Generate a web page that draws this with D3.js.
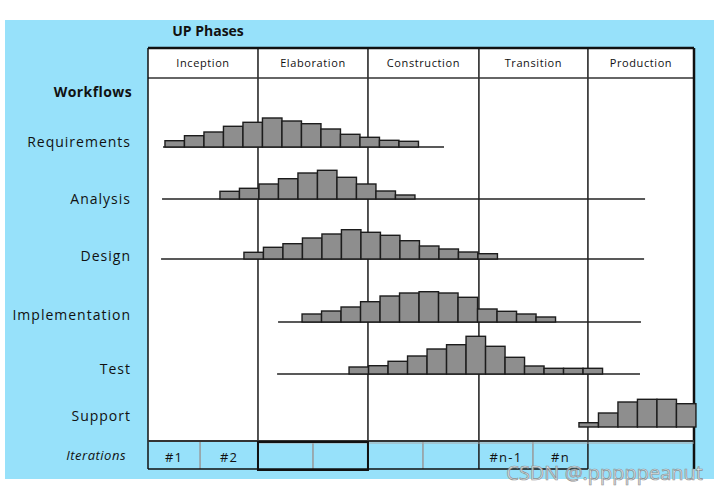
<!DOCTYPE html>
<head>
	<meta charset="utf-8">
	<title>UP Phases</title>
</head>
<style>
body { margin: 0; background: #fff; }
text { font-family: "Open Sans", "DejaVu Sans", sans-serif; fill: #111; }
.bar { fill: #8e8e8e; stroke: #1c1c1c; stroke-width: 1.4px; }
.base { stroke: #222; stroke-width: 1.5px; }
</style>
<svg id="svg" width="718" height="493"></svg>
<script src="https://cdn.jsdelivr.net/npm/d3@7/dist/d3.min.js"></script>
<script>

// phases (column headers) and where they end, in iteration "slots"
var phases = ["Inception", "Elaboration", "Construction", "Transition", "Production"];
var phaseEdges = [0, 5.64, 11.28, 16.97, 22.56, 28];
var iterCells = [0, 2.67, 5.64, 8.46, 11.28, 14.1, 16.97, 19.74, 22.56];
var iterLabels = ["#1", "#2", "", "", "", "", "#n-1", "#n"];

// workflows
var workflows = ["Requirements", "Analysis", "Design", "Implementation", "Test", "Support"];
var starts   = [0.87, 3.69, 4.92, 7.9, 10.31, 22.1];
var lineFrom = [0.77, 0.72, 0.67, 6.67, 6.62, 22.1];
var lineTo   = [15.18, 25.49, 25.44, 25.28, 25.23, 28];

var requirements   = [6.3, 11.3, 15, 20.7, 24.7, 29, 26, 23.3, 18, 12.7, 9.7, 6.7, 5.7];
var analysis       = [7.7, 10.7, 15, 20.3, 26, 28.7, 21.7, 15, 8, 4];
var design         = [6.7, 11.7, 15.3, 21, 25, 29.3, 26.7, 23.7, 18.3, 13, 10, 7, 5.3];
var implementation = [8, 11, 15, 20.3, 26, 29, 30.3, 29, 24.7, 13, 10.7, 8, 5];
var test           = [7, 8.3, 12.7, 18, 25, 29.3, 37.7, 27.7, 16.7, 8, 5.7, 5.7, 5.7];
var support        = [4.3, 14, 25, 27.7, 27.7, 23.3];
var effort = [requirements, analysis, design, implementation, test, support];

var svg = d3.select("svg");

// layout
var gLeft = 148, gRight = 694, gTop = 48, headBottom = 78, gridBottom = 442, iterBottom = 469;
var rowBase = [147, 199, 259, 322, 374, 427];
var labelShift = [0, 5, 2, -2, 0, -6];
var blue = "#97e1fa";

var x = d3.scaleLinear().domain([0, 28]).range([gLeft, gRight]);
var h = d3.scaleLinear().domain([0, 40]).range([0, 40]);

svg.append("rect").attr("x", 5).attr("y", 20).attr("width", 709).attr("height", 459).attr("fill", blue);
svg.append("rect").attr("x", gLeft).attr("y", gTop).attr("width", gRight - gLeft).attr("height", gridBottom - gTop).attr("fill", "#fff");

// iteration row splits
svg.append("g").selectAll("line")
    .data([1, 3, 5, 7])
    .enter().append("line")
      .attr("x1", function(d) { return x(iterCells[d]); })
      .attr("x2", function(d) { return x(iterCells[d]); })
      .attr("y1", gridBottom).attr("y2", iterBottom)
      .attr("stroke", "#999").attr("stroke-width", 1.5);

// phase column lines
svg.append("g").selectAll("line")
    .data(phaseEdges.slice(1, 5))
    .enter().append("line")
      .attr("x1", function(d) { return x(d); })
      .attr("x2", function(d) { return x(d); })
      .attr("y1", gTop).attr("y2", iterBottom)
      .attr("stroke", "#1a1a1a").attr("stroke-width", 1.5);

// outer table lines
svg.append("line").attr("x1", gLeft).attr("x2", gRight).attr("y1", headBottom).attr("y2", headBottom)
    .attr("stroke", "#333").attr("stroke-width", 1.5);
svg.append("line").attr("x1", gLeft).attr("x2", gRight).attr("y1", gTop).attr("y2", gTop)
    .attr("stroke", "#111").attr("stroke-width", 2.5);
svg.append("line").attr("x1", gLeft).attr("x2", gLeft).attr("y1", gTop).attr("y2", iterBottom)
    .attr("stroke", "#111").attr("stroke-width", 1.5);
svg.append("line").attr("x1", gRight).attr("x2", gRight).attr("y1", gTop).attr("y2", iterBottom)
    .attr("stroke", "#111").attr("stroke-width", 2.5);
svg.append("line").attr("x1", gLeft).attr("x2", x(phaseEdges[4])).attr("y1", iterBottom).attr("y2", iterBottom)
    .attr("stroke", "#111").attr("stroke-width", 1.5);
svg.append("line").attr("x1", gLeft).attr("x2", gRight).attr("y1", gridBottom - 1).attr("y2", gridBottom - 1)
    .attr("stroke", "#333").attr("stroke-width", 2);
svg.append("line").attr("x1", x(phaseEdges[1])).attr("x2", gRight).attr("y1", gridBottom + 1).attr("y2", gridBottom + 1)
    .attr("stroke", "#aaa").attr("stroke-width", 1);
svg.append("rect").attr("x", x(phaseEdges[1])).attr("y", gridBottom).attr("width", x(phaseEdges[2]) - x(phaseEdges[1]))
    .attr("height", iterBottom + 1 - gridBottom).attr("fill", "none").attr("stroke", "#111").attr("stroke-width", 2);

// phase labels
svg.append("g").selectAll("text")
    .data(phases)
    .enter().append("text")
      .attr("x", function(d, i) { return (x(phaseEdges[i]) + x(phaseEdges[i + 1])) / 2; })
      .attr("y", 67)
      .attr("text-anchor", "middle")
      .attr("font-size", 11)
      .attr("letter-spacing", 0.6)
      .text(function(d) { return d; });

// iteration labels, 8 cells
svg.append("g").selectAll("text")
    .data(iterLabels)
    .enter().append("text")
      .attr("x", function(d, i) { return (x(iterCells[i]) + x(iterCells[i + 1])) / 2; })
      .attr("y", 462)
      .attr("text-anchor", "middle")
      .attr("font-size", 13)
      .attr("letter-spacing", 1.2)
      .text(function(d) { return d; });

// baselines
svg.append("g").selectAll("line")
    .data(workflows.slice(0, 5))
    .enter().append("line")
      .attr("class", "base")
      .attr("x1", function(d, i) { return x(lineFrom[i]); })
      .attr("x2", function(d, i) { return x(lineTo[i]); })
      .attr("y1", function(d, i) { return rowBase[i]; })
      .attr("y2", function(d, i) { return rowBase[i]; });

// bars
workflows.forEach(function(w, r) {
  svg.append("g").selectAll("rect")
    .data(effort[r])
    .enter().append("rect")
      .attr("class", "bar")
      .attr("x", function(d, i) { return x(starts[r] + i); })
      .attr("width", x(1) - x(0))
      .attr("y", function(d) { return rowBase[r] - h(d); })
      .attr("height", function(d) { return h(d); });
});

// row labels
svg.append("g").selectAll("text")
    .data(workflows)
    .enter().append("text")
      .attr("x", 131)
      .attr("y", function(d, i) { return rowBase[i] + labelShift[i]; })
      .attr("text-anchor", "end")
      .attr("font-size", 14)
      .attr("letter-spacing", 1)
      .text(function(d) { return d; });

svg.append("text").attr("x", 208).attr("y", 36).attr("text-anchor", "middle")
    .attr("font-size", 14).attr("font-weight", "bold").text("UP Phases");
svg.append("text").attr("x", 132).attr("y", 97).attr("text-anchor", "end")
    .attr("font-size", 14).attr("font-weight", "bold").attr("letter-spacing", 0.4).text("Workflows");
svg.append("text").attr("x", 126).attr("y", 460).attr("text-anchor", "end")
    .attr("font-size", 13).attr("font-style", "italic").attr("letter-spacing", 0.5).text("Iterations");

// watermark
svg.append("text").attr("x", 703).attr("y", 480).attr("text-anchor", "end")
    .attr("font-size", 20).attr("font-family", "Liberation Sans, Arial, sans-serif")
    .style("fill", "#e6e6e6").attr("stroke", "#888").attr("stroke-width", 0.7).attr("opacity", 0.9)
    .text("CSDN @.pppppeanut");

</script>
